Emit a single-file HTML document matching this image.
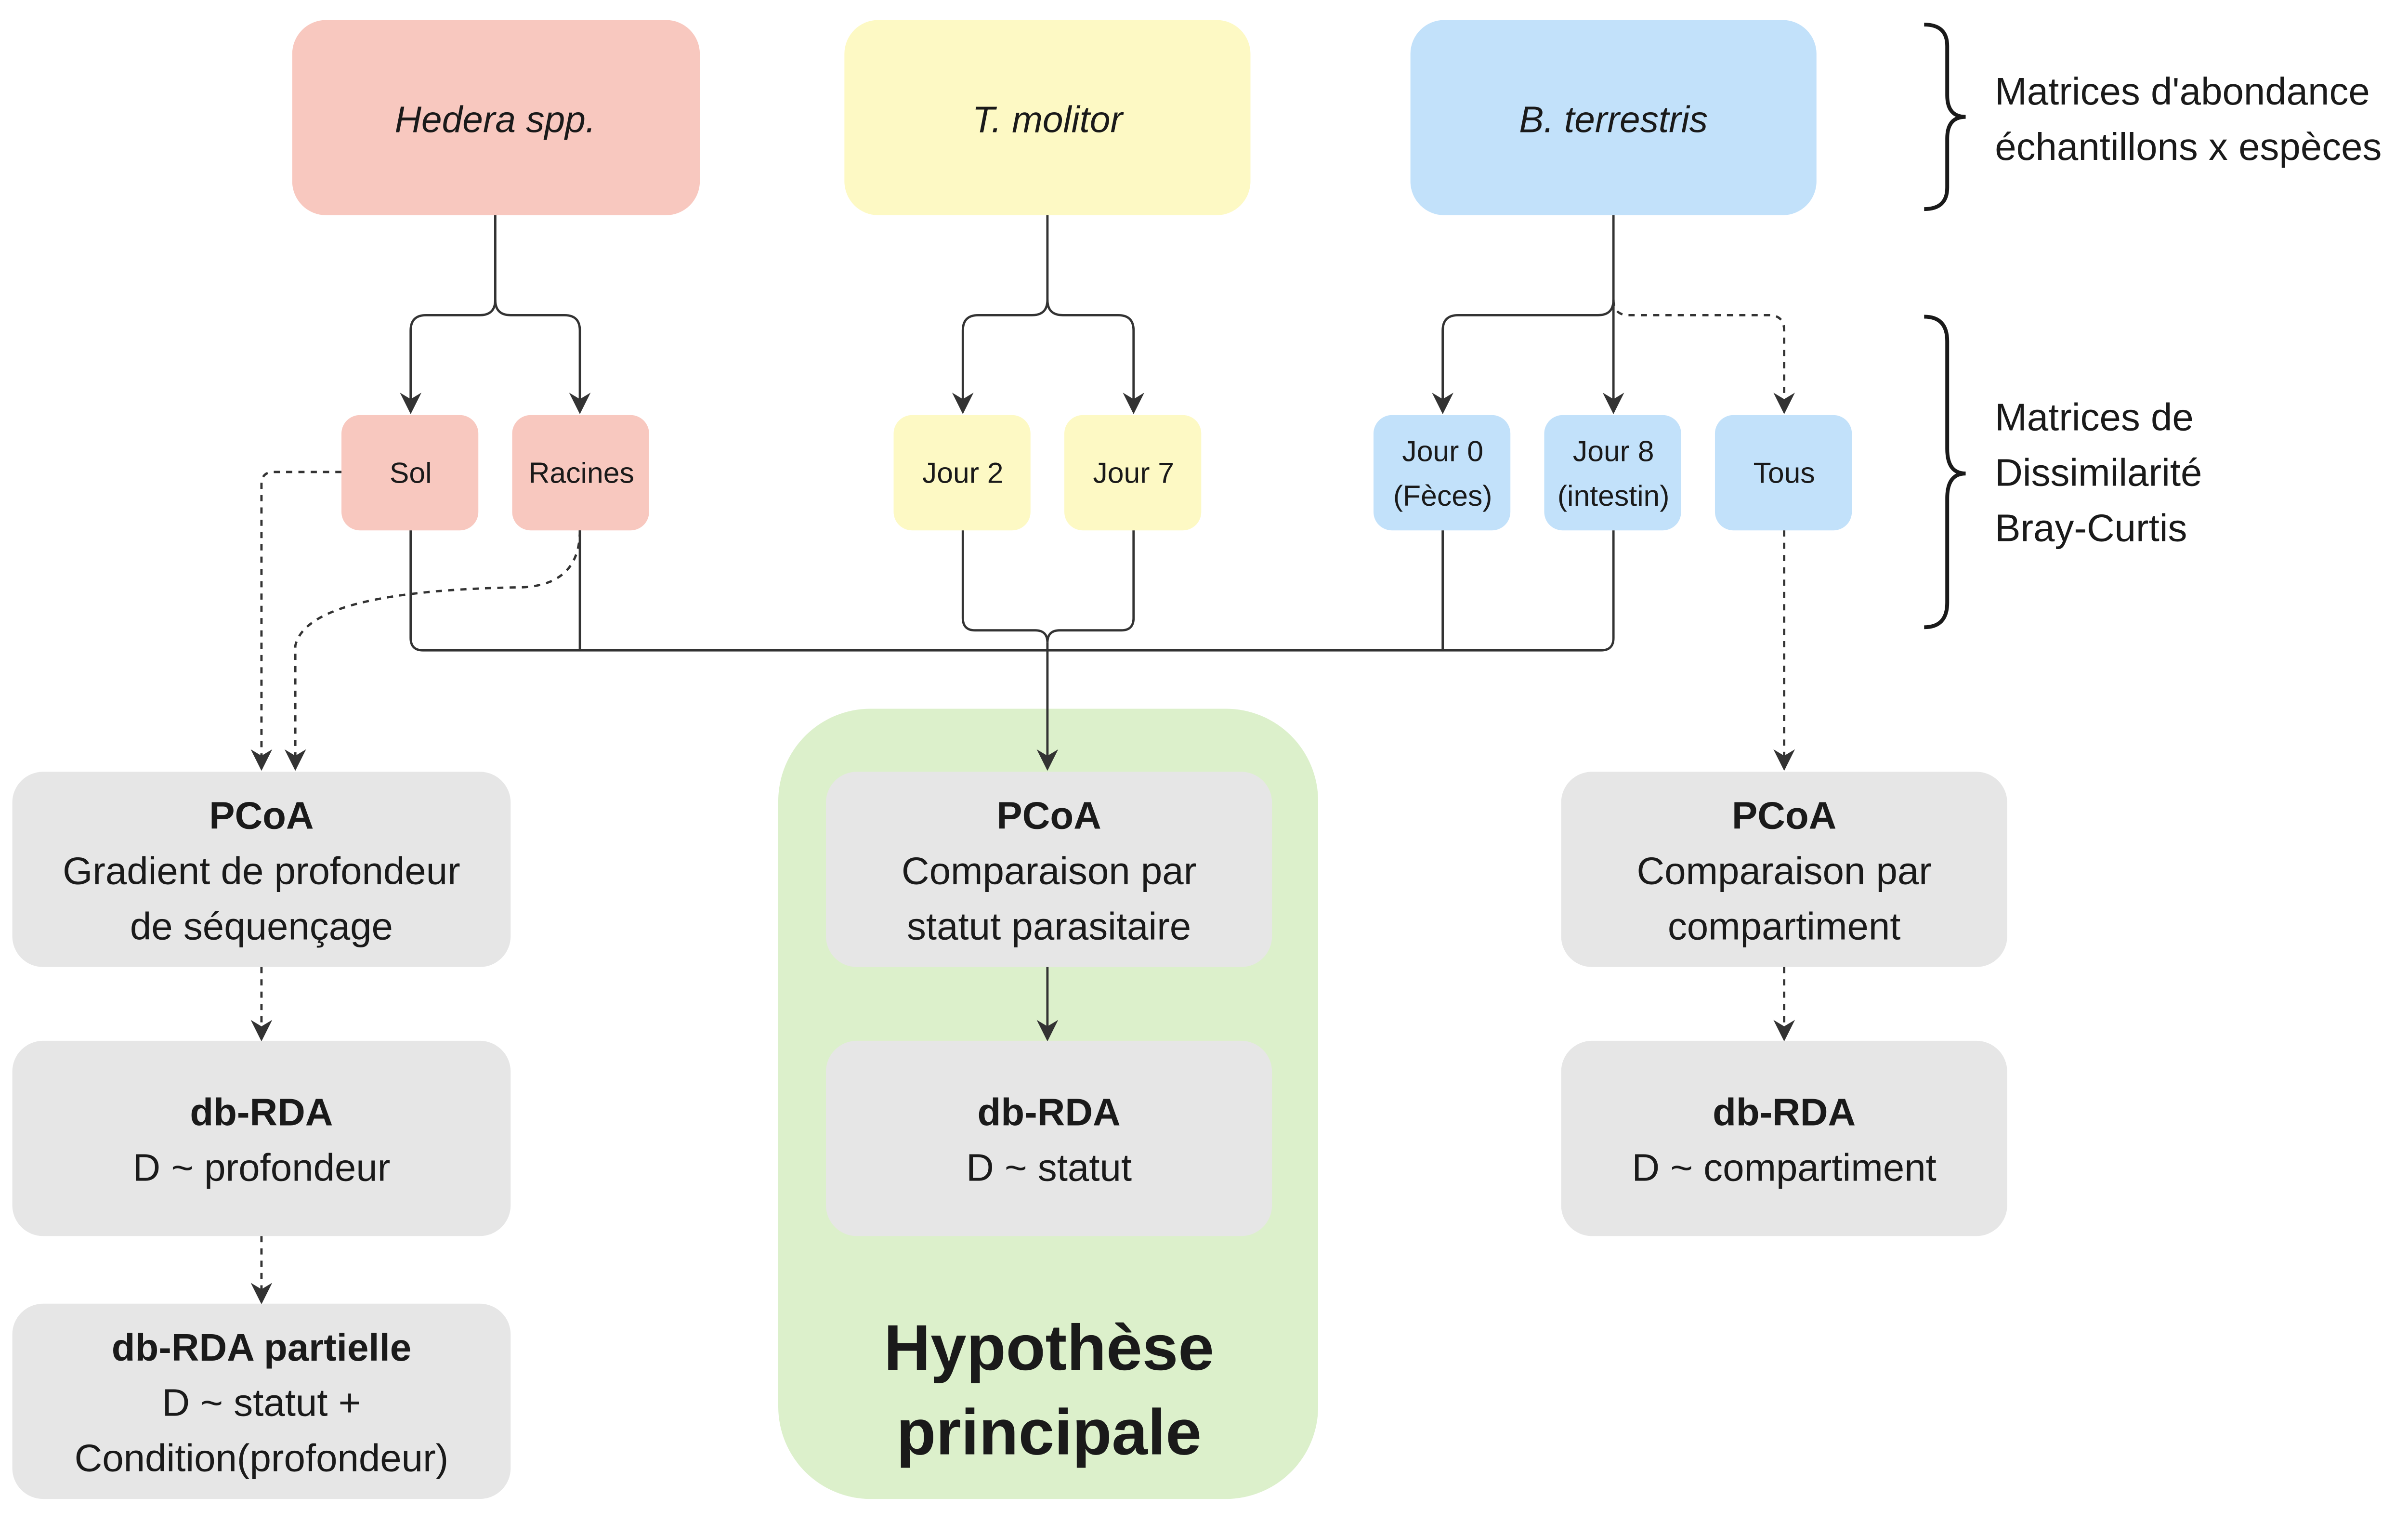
<!DOCTYPE html>
<html><head><meta charset="utf-8"><style>
html,body{margin:0;padding:0;background:#fff;}
svg{display:block;}
text{font-family:"Liberation Sans",sans-serif;fill:#1a1a1a;}
</style></head><body>
<svg width="5062" height="3160" viewBox="0 0 1585 990" preserveAspectRatio="none" xmlns="http://www.w3.org/2000/svg">
<defs>
<marker id="b" viewBox="0 0 10 10" refX="9" refY="5" markerWidth="14" markerHeight="14" orient="auto" markerUnits="userSpaceOnUse"><path d="M0,0 L10,5 L0,10 L3,5 z" fill="#333"/></marker>
</defs>
<rect width="1585" height="990" fill="#fff"/>
<rect x="506" y="461" width="351" height="514" rx="60" fill="#dcf0cb"/>
<rect x="190" y="13" width="265" height="127" rx="22" fill="#f8c8bf"/>
<rect x="549" y="13" width="264" height="127" rx="22" fill="#fdf9c4"/>
<rect x="917" y="13" width="264" height="127" rx="22" fill="#c2e1fa"/>
<g font-size="24" font-style="italic" text-anchor="middle">
<text x="322" y="86">Hedera spp.</text>
<text x="681" y="86">T. molitor</text>
<text x="1049" y="86">B. terrestris</text>
</g>
<g>
<rect x="222" y="270" width="89" height="75" rx="12" fill="#f8c8bf"/>
<rect x="333" y="270" width="89" height="75" rx="12" fill="#f8c8bf"/>
<rect x="581" y="270" width="89" height="75" rx="12" fill="#fdf9c4"/>
<rect x="692" y="270" width="89" height="75" rx="12" fill="#fdf9c4"/>
<rect x="893" y="270" width="89" height="75" rx="12" fill="#c2e1fa"/>
<rect x="1004" y="270" width="89" height="75" rx="12" fill="#c2e1fa"/>
<rect x="1115" y="270" width="89" height="75" rx="12" fill="#c2e1fa"/>
</g>
<g font-size="19" text-anchor="middle">
<text x="267" y="314">Sol</text>
<text x="378" y="314">Racines</text>
<text x="626" y="314">Jour 2</text>
<text x="737" y="314">Jour 7</text>
<text x="938" y="300">Jour 0</text>
<text x="938" y="329">(Fèces)</text>
<text x="1049" y="300">Jour 8</text>
<text x="1049" y="329">(intestin)</text>
<text x="1160" y="314">Tous</text>
</g>
<g fill="none" stroke="#333" stroke-width="1.5">
<path d="M322,140 V195 Q322,205 312,205 H277 Q267,205 267,215 V268" marker-end="url(#b)"/>
<path d="M322,195 Q322,205 332,205 H367 Q377,205 377,215 V268" marker-end="url(#b)"/>
<path d="M681,140 V195 Q681,205 671,205 H636 Q626,205 626,215 V268" marker-end="url(#b)"/>
<path d="M681,195 Q681,205 691,205 H727 Q737,205 737,215 V268" marker-end="url(#b)"/>
<path d="M1049,140 V195 Q1049,205 1039,205 H948 Q938,205 938,215 V268" marker-end="url(#b)"/>
<path d="M1049,195 V268" marker-end="url(#b)"/>
<path d="M267,345 V415 Q267,423 275,423 H1041 Q1049,423 1049,415 V345"/>
<path d="M377,345 V423 M938,345 V423"/>
<path d="M626,345 V402 Q626,410 634,410 H673 Q681,410 681,418 Q681,410 689,410 H729 Q737,410 737,402 V345"/>
<path d="M681,418 V500" marker-end="url(#b)"/>
<path d="M681,629 V676" marker-end="url(#b)"/>
</g>
<g fill="none" stroke="#333" stroke-width="1.5" stroke-dasharray="4,4">
<path d="M1049,195 Q1049,205 1059,205 H1150 Q1160,205 1160,215 V268" marker-end="url(#b)"/>
<path d="M222,307 H178 Q170,307 170,315 V500" marker-end="url(#b)"/>
<path d="M377,345 Q377,380 340,382 Q200,384 192,420 V500" marker-end="url(#b)"/>
<path d="M1160,345 V500" marker-end="url(#b)"/>
<path d="M170,629 V676" marker-end="url(#b)"/>
<path d="M170,804 V847" marker-end="url(#b)"/>
<path d="M1160,629 V676" marker-end="url(#b)"/>
</g>
<g fill="none" stroke="#1a1a1a" stroke-width="2.5">
<path d="M1251,16 Q1266,16 1266,30 V62 Q1266,76 1278,76 Q1266,76 1266,90 V122 Q1266,136 1251,136"/>
<path d="M1251,206 Q1266,206 1266,222 V292 Q1266,308 1278,308 Q1266,308 1266,324 V392 Q1266,408 1251,408"/>
</g>
<g font-size="25">
<text x="1297" y="68">Matrices d'abondance</text>
<text x="1297" y="104">échantillons x espèces</text>
<text x="1297" y="280">Matrices de</text>
<text x="1297" y="316">Dissimilarité</text>
<text x="1297" y="352">Bray-Curtis</text>
</g>
<g fill="#e6e6e6">
<rect x="8" y="502" width="324" height="127" rx="20"/>
<rect x="8" y="677" width="324" height="127" rx="20"/>
<rect x="8" y="848" width="324" height="127" rx="20"/>
<rect x="537" y="502" width="290" height="127" rx="20"/>
<rect x="537" y="677" width="290" height="127" rx="20"/>
<rect x="1015" y="502" width="290" height="127" rx="20"/>
<rect x="1015" y="677" width="290" height="127" rx="20"/>
</g>
<g font-size="25" text-anchor="middle">
<text x="170" y="539" font-weight="bold">PCoA</text>
<text x="170" y="575">Gradient de profondeur</text>
<text x="170" y="611">de séquençage</text>
<text x="170" y="732" font-weight="bold">db-RDA</text>
<text x="170" y="768">D ~ profondeur</text>
<text x="170" y="885" font-weight="bold">db-RDA partielle</text>
<text x="170" y="921">D ~ statut +</text>
<text x="170" y="957">Condition(profondeur)</text>
<text x="682" y="539" font-weight="bold">PCoA</text>
<text x="682" y="575">Comparaison par</text>
<text x="682" y="611">statut parasitaire</text>
<text x="682" y="732" font-weight="bold">db-RDA</text>
<text x="682" y="768">D ~ statut</text>
<text x="1160" y="539" font-weight="bold">PCoA</text>
<text x="1160" y="575">Comparaison par</text>
<text x="1160" y="611">compartiment</text>
<text x="1160" y="732" font-weight="bold">db-RDA</text>
<text x="1160" y="768">D ~ compartiment</text>
</g>
<g font-size="42" font-weight="bold" text-anchor="middle">
<text x="682" y="891">Hypothèse</text>
<text x="682" y="946">principale</text>
</g>
</svg>
</body></html>
